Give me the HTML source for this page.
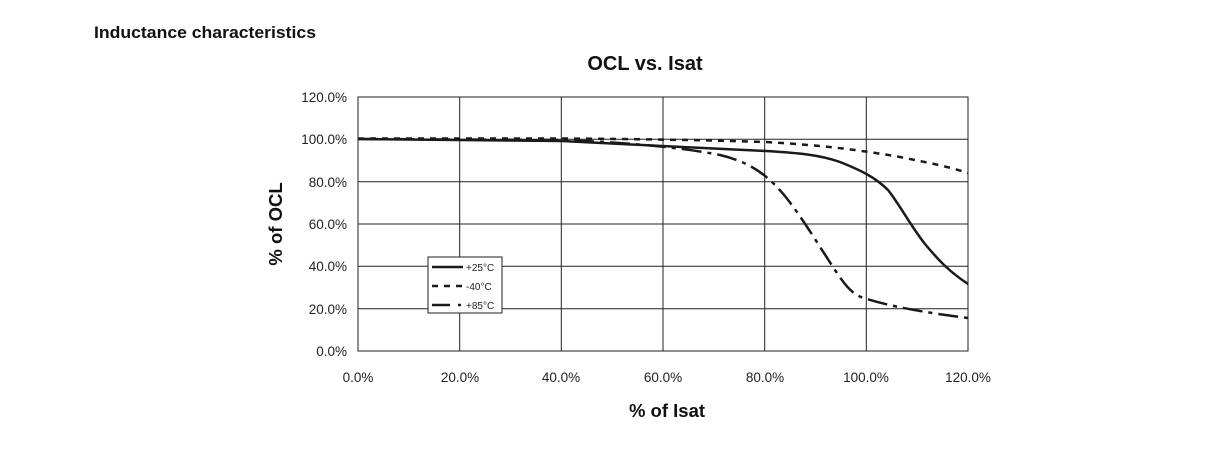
<!DOCTYPE html>
<html><head><style>
body{margin:0;background:#fff;width:1213px;height:465px;overflow:hidden;font-family:"Liberation Sans",sans-serif;}
</style></head><body>
<svg width="1213" height="465" xmlns="http://www.w3.org/2000/svg" font-family="Liberation Sans, sans-serif">
<text x="94" y="38" font-size="17" font-weight="bold" fill="#111" textLength="222" lengthAdjust="spacingAndGlyphs">Inductance characteristics</text>
<text x="645" y="70" font-size="20" font-weight="bold" text-anchor="middle" fill="#111">OCL vs. Isat</text>
<g stroke="#222" stroke-width="1" fill="none">
<rect x="358" y="97" width="610" height="254"/>
<line x1="358" y1="139.3" x2="968" y2="139.3"/><line x1="358" y1="181.7" x2="968" y2="181.7"/>
<line x1="358" y1="224" x2="968" y2="224"/><line x1="358" y1="266.3" x2="968" y2="266.3"/>
<line x1="358" y1="308.7" x2="968" y2="308.7"/>
<line x1="459.7" y1="97" x2="459.7" y2="351"/><line x1="561.3" y1="97" x2="561.3" y2="351"/>
<line x1="663" y1="97" x2="663" y2="351"/><line x1="764.7" y1="97" x2="764.7" y2="351"/>
<line x1="866.3" y1="97" x2="866.3" y2="351"/>
</g>
<g font-size="13.5" fill="#222" text-anchor="end">
<text x="347" y="102">120.0%</text><text x="347" y="144">100.0%</text><text x="347" y="187">80.0%</text>
<text x="347" y="229">60.0%</text><text x="347" y="271">40.0%</text><text x="347" y="314">20.0%</text><text x="347" y="356">0.0%</text>
</g>
<g font-size="13.5" fill="#222" text-anchor="middle">
<text x="358" y="382">0.0%</text><text x="460" y="382">20.0%</text><text x="561" y="382">40.0%</text>
<text x="663" y="382">60.0%</text><text x="765" y="382">80.0%</text><text x="866" y="382">100.0%</text><text x="968" y="382">120.0%</text>
</g>
<text x="667" y="417" font-size="18.5" font-weight="bold" text-anchor="middle" fill="#111">% of Isat</text>
<text transform="translate(282,224) rotate(-90)" font-size="18.5" font-weight="bold" text-anchor="middle" fill="#111">% of OCL</text>
<g fill="none" stroke="#1a1a1a" stroke-width="2.5" stroke-linejoin="round">
<path stroke-dasharray="6,6" d="M358,138.5 L560,138.5 C640,139 700,140 766,142 C820,145 860,150 900,157 C930,163 950,167 968,173"/>
<path stroke-dasharray="20,6,4,6" d="M358,139 L560,140 C620,142 680,147 720,155 C745,161 760,170 775,185 C795,205 815,240 835,270 C848,290 855,296 867,299 C890,306 920,312 968,318"/>
<path d="M358,139 L562,141 C620,144 700,148 766,151 C800,153 820,155 840,162 C860,170 875,177 888,190 C900,205 910,225 925,244 C940,262 950,272 968,284"/>
</g>
<rect x="428" y="257" width="74" height="56" fill="#fff" stroke="#222" stroke-width="1"/>
<g stroke="#1a1a1a" stroke-width="2.5">
<line x1="432" y1="267" x2="463" y2="267"/>
<line x1="432" y1="286" x2="463" y2="286" stroke-dasharray="6,6"/>
<line x1="432" y1="305" x2="463" y2="305" stroke-dasharray="18,8,3,6"/>
</g>
<g font-size="10" fill="#222"><text x="466" y="271">+25°C</text><text x="466" y="290">-40°C</text><text x="466" y="309">+85°C</text></g>
</svg>
</body></html>
